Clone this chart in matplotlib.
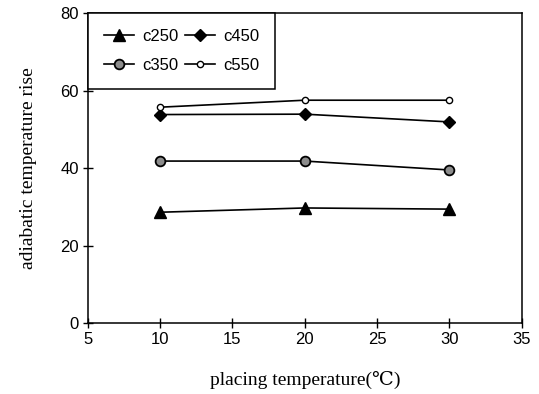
import matplotlib.pyplot as plt

temps = [10, 20, 30]
c250 = [28.6, 29.7, 29.4]
c350 = [41.8, 41.8, 39.5]
c450 = [53.8, 53.9, 51.9]
c550 = [55.7, 57.5, 57.5]

xticks = [5, 10, 15, 20, 25, 30, 35]
yticks = [0, 20, 40, 60, 80]

fig = plt.figure(figsize=(5.39, 3.94), dpi=100)
ax = fig.add_axes([0.163, 0.180, 0.805, 0.787])

ax.plot(temps, c250, color='black', lw=1.2, marker='^', ms=8, mfc='black', mec='black', label='c250')
ax.plot(temps, c350, color='black', lw=1.2, marker='o', ms=7, mfc='0.55', mec='black', mew=1.3, label='c350')
ax.plot(temps, c450, color='black', lw=1.2, marker='D', ms=6.5, mfc='black', mec='black', label='c450')
ax.plot(temps, c550, color='black', lw=1.2, marker='o', ms=4.5, mfc='white', mec='black', mew=1, label='c550')

ax.set_xlim(5, 35)
ax.set_ylim(0, 80)
ax.set_xticks(xticks)
ax.set_yticks(yticks)
ax.tick_params(direction='inout', length=7, width=1, labelsize=12, pad=3)
for lab in ax.get_xticklabels() + ax.get_yticklabels():
    lab.set_family('Liberation Sans')
for s in ax.spines.values():
    s.set_linewidth(1.1)

ax.set_xlabel('placing temperature(\u2103)', family=['Liberation Serif', 'DejaVu Serif'],
              fontsize=14, labelpad=17)
ax.set_ylabel('adiabatic temperature rise', family=['Liberation Serif', 'DejaVu Serif'],
              fontsize=14, labelpad=17)

leg = ax.legend(ncol=2, loc='upper left', bbox_to_anchor=(0.0, 1.0), frameon=True, fancybox=False,
                edgecolor='black', framealpha=1, borderaxespad=0, columnspacing=0.4,
                handlelength=1.8, handletextpad=0.5, borderpad=0.95, labelspacing=0.85,
                prop={'family': 'Liberation Sans', 'size': 12})
leg.get_frame().set_linewidth(1.1)

fig.savefig('out.png', dpi=100)
